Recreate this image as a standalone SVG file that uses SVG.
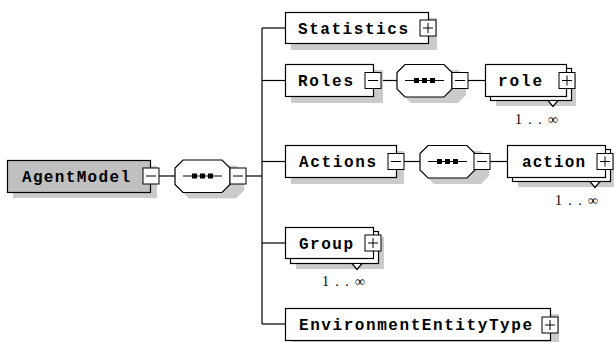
<svg xmlns="http://www.w3.org/2000/svg" width="614" height="342" viewBox="0 0 614 342">
<style>
.box{fill:#fff;stroke:#000;stroke-width:1.2}
.gbox{fill:#c0c0c0;stroke:#000;stroke-width:1.2}
.sh{fill:#cbcbcb;stroke:none}
.btn{fill:#fff;stroke:#000;stroke-width:1}
.sign{stroke:#000;stroke-width:1;fill:none}
.ln{stroke:#000;stroke-width:1.2;fill:none}
.t{font-family:"Liberation Mono",monospace;font-weight:bold;font-size:16px;fill:#000}
.m{font-family:"Liberation Serif",serif;font-size:14px;fill:#000}
.dot{fill:#000}
</style>
<defs>
<g id="minus"><rect class="btn" x="0" y="0" width="16" height="16"/><path class="sign" d="M3 8H13"/></g>
<g id="plus"><rect class="btn" x="0" y="0" width="16" height="16"/><path class="sign" d="M3 8H13M8 3V13"/></g>
<g id="seq">
<path class="sh" d="M14 6H61L69 14V31L61 39H14L6 31V14Z"/>
<path class="box" d="M8 0.5H47L55 8.5V25L47 33H8L0 25V8.5Z"/>
<path class="ln" d="M8 16.5H47"/>
<rect class="dot" x="17" y="14" width="5" height="5"/>
<rect class="dot" x="25" y="14" width="5" height="5"/>
<rect class="dot" x="33" y="14" width="5" height="5"/>
</g>
</defs>

<g id="connectors">
<path class="ln" d="M159 176H175"/>
<path class="ln" d="M246 176H262"/>
<path class="ln" d="M262 28V324"/>
<path class="ln" d="M262 28H285"/>
<path class="ln" d="M262 80.5H285"/>
<path class="ln" d="M262 161.5H285"/>
<path class="ln" d="M262 243H285"/>
<path class="ln" d="M262 324H285"/>
<path class="ln" d="M381 80.5H397"/>
<path class="ln" d="M468 80.5H485"/>
<path class="ln" d="M404 161.5H420"/>
<path class="ln" d="M490 161.5H507"/>
</g>

<g id="AgentModel">
<rect class="sh" x="13" y="166" width="144" height="32"/>
<rect class="gbox" x="7.5" y="160.5" width="143" height="32"/>
<text class="t" x="22" y="182" textLength="108" lengthAdjust="spacing">AgentModel</text>
<use href="#minus" x="143" y="168"/>
</g>

<g id="seq1">
<use href="#seq" x="175" y="159.5"/>
<use href="#minus" x="230" y="168"/>
</g>

<g id="Statistics">
<rect class="sh" x="291" y="18" width="146" height="32"/>
<rect class="box" x="285.5" y="12.5" width="143" height="31"/>
<text class="t" x="298" y="34" textLength="110" lengthAdjust="spacing">Statistics</text>
<use href="#plus" x="420" y="20"/>
</g>

<g id="Roles">
<rect class="sh" x="291" y="70" width="92" height="33"/>
<rect class="box" x="285.5" y="64.5" width="88" height="32"/>
<text class="t" x="298" y="86" textLength="55" lengthAdjust="spacing">Roles</text>
<use href="#minus" x="365" y="72.5"/>
</g>

<g id="seq2">
<use href="#seq" x="397" y="64"/>
<use href="#minus" x="452" y="72.5"/>
</g>

<g id="role">
<rect class="sh" x="496" y="74" width="80" height="32"/>
<rect class="box" x="490.5" y="68.5" width="81" height="32"/>
<rect class="box" x="485.5" y="64.5" width="81" height="32"/>
<polygon class="box" points="548,100.5 553,106.5 558,100.5"/>
<text class="t" x="498" y="86" textLength="44" lengthAdjust="spacing">role</text>
<use href="#plus" x="559" y="72.5"/>
<text class="m" x="515" y="124" textLength="43" lengthAdjust="spacing">1..∞</text>
</g>

<g id="Actions">
<rect class="sh" x="291" y="151" width="113" height="33"/>
<rect class="box" x="285.5" y="145.5" width="111" height="32"/>
<text class="t" x="299" y="167" textLength="77" lengthAdjust="spacing">Actions</text>
<use href="#minus" x="388" y="153.5"/>
</g>

<g id="seq3">
<use href="#seq" x="420" y="145"/>
<use href="#minus" x="474" y="153.5"/>
</g>

<g id="action">
<rect class="sh" x="518" y="155" width="96" height="32"/>
<rect class="box" x="512.5" y="149.5" width="98" height="32"/>
<rect class="box" x="507.5" y="145.5" width="98" height="32"/>
<polygon class="box" points="590,181.5 595,187.5 600,181.5"/>
<text class="t" x="522" y="167" textLength="63" lengthAdjust="spacing">action</text>
<use href="#plus" x="597" y="153.5"/>
<text class="m" x="555" y="205" textLength="43" lengthAdjust="spacing">1..∞</text>
</g>

<g id="Group">
<rect class="sh" x="296" y="237" width="88" height="32"/>
<rect class="box" x="290.5" y="231.5" width="88" height="32"/>
<rect class="box" x="285.5" y="227.5" width="88" height="31"/>
<polygon class="box" points="352,263.5 357,269.5 362,263.5"/>
<text class="t" x="299" y="249" textLength="54" lengthAdjust="spacing">Group</text>
<use href="#plus" x="365" y="235"/>
<text class="m" x="322" y="286" textLength="43" lengthAdjust="spacing">1..∞</text>
</g>

<g id="EnvironmentEntityType">
<rect class="sh" x="291" y="314" width="268" height="32"/>
<rect class="box" x="285.5" y="308.5" width="265" height="32"/>
<text class="t" x="299" y="330" textLength="233" lengthAdjust="spacing">EnvironmentEntityType</text>
<use href="#plus" x="542" y="317"/>
</g>
</svg>
